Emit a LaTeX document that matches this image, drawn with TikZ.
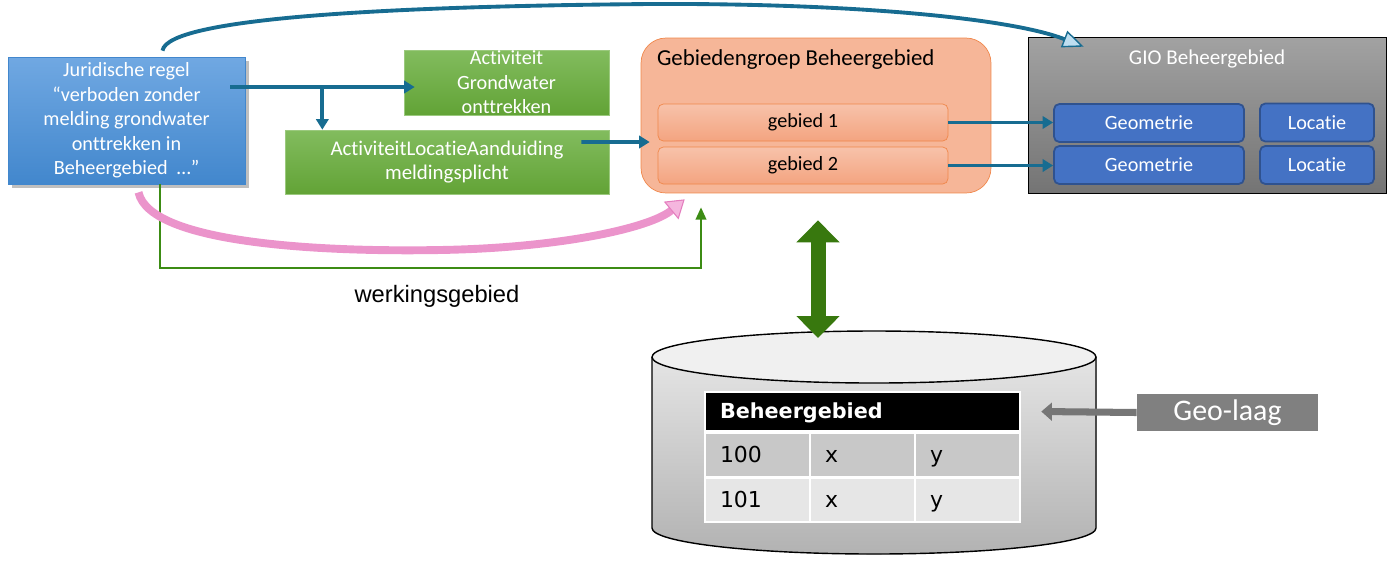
\documentclass[tikz,border=0pt]{standalone}
\usepackage{fontspec}
\setmainfont{Carlito}[Ligatures={NoCommon,NoContextual}, Contextuals=NoAlternate]
\newfontfamily\arialfont{Liberation Sans}
\newfontfamily\tabfont{DejaVu Sans}
\usetikzlibrary{arrows.meta,shadows,calc}

\definecolor{flowblue}{RGB}{23,108,145}
\definecolor{jurtop}{RGB}{112,168,226}
\definecolor{jurbot}{RGB}{66,135,205}
\definecolor{acttop}{RGB}{130,188,94}
\definecolor{actbot}{RGB}{98,163,54}
\definecolor{grpfill}{RGB}{246,182,152}
\definecolor{grpline}{RGB}{240,135,75}
\definecolor{gebtop}{RGB}{247,194,170}
\definecolor{gebbot}{RGB}{244,164,128}
\definecolor{giotop}{RGB}{162,162,162}
\definecolor{giobot}{RGB}{116,116,116}
\definecolor{geofill}{RGB}{68,114,196}
\definecolor{geoline}{RGB}{47,82,143}
\definecolor{werkgreen}{RGB}{60,140,20}
\definecolor{biggreen}{RGB}{56,120,14}
\definecolor{pinkfill}{RGB}{245,182,222}
\definecolor{pinkline}{RGB}{228,125,190}
\definecolor{lidgray}{RGB}{240,240,240}
\definecolor{cyltop}{RGB}{235,235,235}
\definecolor{cylbot}{RGB}{178,178,178}
\definecolor{rowA}{RGB}{200,200,200}
\definecolor{rowB}{RGB}{230,230,230}
\definecolor{geogray}{RGB}{128,128,128}
\definecolor{arrowgray}{RGB}{118,118,118}
\definecolor{topfill}{RGB}{190,222,240}

\tikzset{
  txt/.style={align=center, inner sep=0pt, font=\fontsize{11.5}{14}\selectfont},
  regel/.style={txt, text=white, top color=jurtop, bottom color=jurbot, draw=jurbot, drop shadow,
    minimum width=4.74cm, minimum height=2.54cm},
  groen/.style={txt, text=white, top color=acttop, bottom color=actbot, draw=acttop!80!white},
  gebied/.style={txt, top color=gebtop, bottom color=gebbot, draw=grpline, rounded corners=3pt,
    minimum width=5.8cm, minimum height=0.74cm},
  gio/.style={txt, text=white, fill=geofill, draw=geoline, line width=1pt, rounded corners=3pt,
    minimum height=0.76cm},
  flow/.style={draw=flowblue, line width=2.2pt, -{Triangle[length=6pt,width=7pt]}},
  tabcel/.style={draw=white, line width=1.5pt, minimum height=0.88cm, text width=1.5cm,
    text height=10.5pt, text depth=2pt, inner xsep=0.3cm, align=left,
    font=\tabfont\fontsize{12.5}{14}\selectfont},
}

\begin{document}
\begin{tikzpicture}[x=0.02cm, y=-0.02cm]
	%\draw[help lines] (0,0) grid[step=50] (1388,566);
	\useasboundingbox (0,0) rectangle (1388,566);
	% database
	\fill[top color=cyltop, bottom color=cylbot] (652,357) -- (652,528) arc[start angle=180, end angle=0, x radius=222, y radius=26] -- (1096,357) arc[start angle=0, end angle=-180, x radius=222, y radius=26] -- cycle;
	\draw[line width=0.8pt] (652,357) -- (652,528) arc[start angle=180, end angle=0, x radius=222, y radius=26] -- (1096,357);
	\draw[line width=0.8pt, fill=lidgray] (874,357) ellipse [x radius=222, y radius=26];
	\coordinate (dbtop) at (818,338);
	\node[tabcel, fill=black, text=white, text width=5.7cm, minimum height=0.78cm, font=\tabfont\bfseries\fontsize{11.8}{13}\selectfont] (hdr) at (862.5,411.5) {Beheergebied};
	\foreach \num/\yy/\shade in {100/455/rowA,101/500/rowB} {
		\node[tabcel, fill=\shade] (n\num) at (757.5,\yy) {\num};
		\node[tabcel, fill=\shade] (x\num) at (862.5,\yy) {x};
		\node[tabcel, fill=\shade] (y\num) at (967.5,\yy) {y};
	}
	\node[txt, fill=geogray, text=white, minimum width=3.62cm, minimum height=0.74cm, font=\fontsize{17}{20}\selectfont] (geolaag) at (1227.5,412.5) {Geo-laag};
	\draw[arrowgray, line width=4pt, -{Triangle[length=6pt,width=10pt]}] (geolaag.west) -- ($(hdr.east)+(20,0)$);
	% boxes
	\node[regel] (jur) at (126.5,120.5) {Juridische regel\\“verboden zonder\\melding grondwater\\onttrekken in\\Beheergebied~ …”};
	\node[groen, minimum width=4.1cm, minimum height=1.3cm] (act) at (506.5,82.5) {Activiteit\\Grondwater\\onttrekken};
	\node[groen, minimum width=6.48cm, minimum height=1.28cm, font=\fontsize{11.9}{14}\selectfont] (loc) at (447,162) {ActiviteitLocatieAanduiding\\meldingsplicht};
	\node[txt, fill=grpfill, draw=grpline, rounded corners=0.5cm, minimum width=7cm, minimum height=3.1cm,
		label={[anchor=north west, inner sep=0pt, xshift=0.32cm, yshift=-0.24cm, font=\fontsize{13}{15}\selectfont]north west:Gebiedengroep Beheergebied}] (grp) at (816,115.5) {};
	\node[gebied] (g1) at (803,122.5) {gebied 1};
	\node[gebied] (g2) at (803,165.5) {gebied 2};
	\node[txt, top color=giotop, bottom color=giobot, draw=black, minimum width=7.16cm, minimum height=3.12cm,
		label={[anchor=north, inner sep=0pt, yshift=-0.26cm, text=white, font=\fontsize{12}{14}\selectfont]north:GIO Beheergebied}] (gio) at (1207,115) {};
	\node[gio, minimum width=3.8cm] (geo1) at (1149,123) {\raisebox{-2.8pt}{Geometrie}};
	\node[gio, minimum width=3.8cm] (geo2) at (1149,165) {\raisebox{-2.8pt}{Geometrie}};
	\node[gio, minimum width=2.28cm] (loc1) at (1317,122.5) {\raisebox{-2pt}{Locatie}};
	\node[gio, minimum width=2.28cm] (loc2) at (1317,165) {\raisebox{-2pt}{Locatie}};
	% arrows
	\draw[flow] ($(jur.east |- act.west)+(-15,4.5)$) -- ($(act.west)+(11,4.5)$);
	\coordinate (br) at ($(jur.east |- act.west)+(77,4.5)$);
	\draw[flow] (br) -- (br |- loc.north);
	\draw[flow] ($(loc.east)+(-28,-20)$) -- ($(grp.west)+(9,26.5)$);
	\draw[flow] (g1.east) -- (g1.east -| geo1.west);
	\draw[flow] (g2.east) -- (g2.east -| geo2.west);
	\draw[werkgreen, line width=1.2pt, -{Triangle[length=7pt,width=6pt]}] ($(jur.south)+(33.5,0)$) -- ++(0,84) -| ($(grp.south)+(-115,14)$);
	\node[font=\arialfont\fontsize{13.5}{16}\selectfont] (werk) at (437,296) {werkingsgebied};
	\draw[pinkline!60!pinkfill, line width=4.5pt, -{Triangle[length=10pt,width=13pt,fill=pinkfill,color=pinkline,line width=0.6pt]}] ($(jur.south)+(12,8)$) .. controls (150,245) and (330,252) .. (440,250) .. controls (560,248) and (650,228) .. ($(grp.south west)+(44,6)$);
	\draw[flowblue, line width=2.2pt, -{Triangle[length=12pt,width=10pt,fill=topfill,line width=0.8pt]}] ($(jur.north)+(36,-6)$) .. controls +(5,-35) and (420,6) .. (650,4) .. controls (850,3) and (1010,18) .. ($(gio.north west)+(56,10)$);
	\draw[biggreen, line width=0.3cm, {Triangle[length=0.44cm,width=0.84cm]}-{Triangle[length=0.44cm,width=0.84cm]}] ($(dbtop |- grp.south)+(0,27)$) -- (dbtop);
\end{tikzpicture}
\end{document}
